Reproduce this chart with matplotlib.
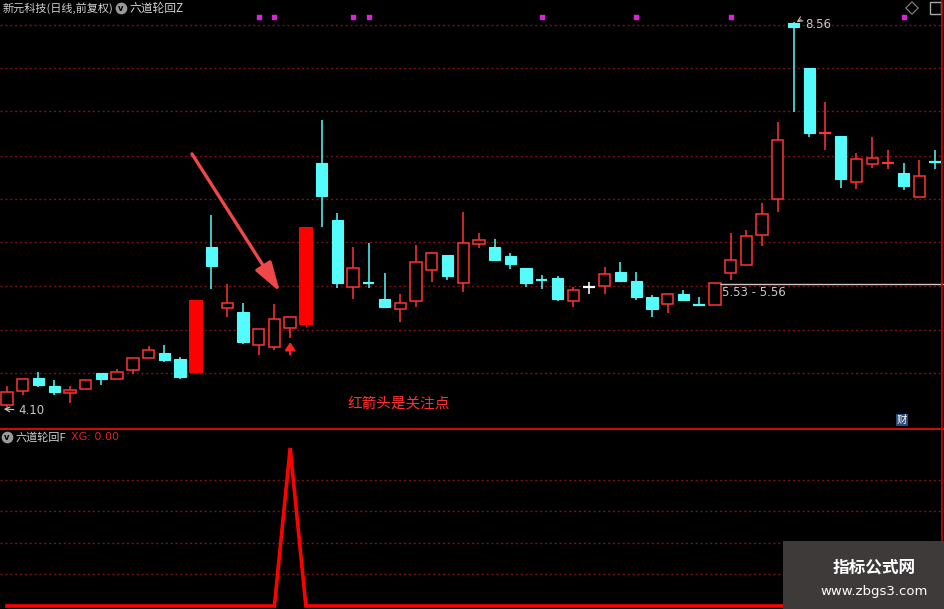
import matplotlib.pyplot as plt
from matplotlib.patches import Rectangle
import matplotlib.transforms as mtransforms
import numpy as np

plt.rcParams['font.family'] = ['Noto Sans CJK SC', 'DejaVu Sans']

# daily OHLC
opens = [4.15, 4.31, 4.46, 4.37, 4.28, 4.33, 4.51, 4.45, 4.55, 4.69,
         4.75, 4.68, 4.51, 5.97, 5.26, 5.22, 4.84, 4.81, 5.03, 5.07,
         6.94, 6.28, 5.51, 5.56, 5.37, 5.25, 5.35, 5.70, 5.88, 5.55,
         6.00, 5.97, 5.86, 5.72, 5.59, 5.61, 5.35, 5.51, 5.52, 5.68,
         5.58, 5.39, 5.31, 5.43, 5.30, 5.30, 5.67, 5.76, 6.11, 6.52,
         8.55, 8.03, 7.27, 7.25, 6.72, 6.92, 6.93, 6.82, 6.54, 6.95]
highs = [4.37, 4.45, 4.53, 4.43, 4.37, 4.43, 4.51, 4.56, 4.69, 4.83,
         4.84, 4.70, 4.51, 6.34, 5.54, 5.32, 5.02, 5.31, 5.16, 6.20,
         7.43, 6.36, 5.97, 6.01, 5.67, 5.43, 5.99, 5.91, 5.88, 6.37,
         6.13, 6.06, 5.90, 5.72, 5.64, 5.63, 5.51, 5.56, 5.74, 5.79,
         5.68, 5.41, 5.43, 5.47, 5.39, 5.55, 6.13, 6.16, 6.47, 7.41,
         8.56, 8.03, 7.64, 7.25, 7.05, 7.24, 7.09, 6.94, 6.97, 7.09]
lows = [4.10, 4.26, 4.35, 4.26, 4.17, 4.33, 4.38, 4.45, 4.50, 4.69,
        4.64, 4.45, 4.51, 5.48, 5.16, 4.85, 4.72, 4.78, 4.92, 5.05,
        6.20, 5.49, 5.37, 5.49, 5.26, 5.10, 5.28, 5.56, 5.59, 5.45,
        5.96, 5.82, 5.71, 5.51, 5.48, 5.35, 5.28, 5.43, 5.43, 5.58,
        5.36, 5.16, 5.21, 5.36, 5.29, 5.30, 5.59, 5.76, 5.98, 6.37,
        7.52, 7.24, 7.09, 6.65, 6.64, 6.88, 6.87, 6.62, 6.54, 6.87]
closes = [4.30, 4.45, 4.38, 4.30, 4.32, 4.43, 4.45, 4.53, 4.69, 4.78,
          4.66, 4.47, 5.36, 5.75, 5.32, 4.87, 5.02, 5.14, 5.16, 6.20,
          6.55, 5.55, 5.72, 5.54, 5.28, 5.32, 5.79, 5.90, 5.63, 6.01,
          6.05, 5.82, 5.77, 5.55, 5.58, 5.37, 5.47, 5.51, 5.66, 5.58,
          5.39, 5.25, 5.43, 5.36, 5.29, 5.55, 5.82, 6.09, 6.35, 7.20,
          8.50, 7.28, 7.29, 6.75, 6.98, 6.99, 6.94, 6.67, 6.79, 6.94]

big_bars = [12, 19]                          # filled red bars from the indicator
signal_dots = [16, 17, 22, 23, 34, 40, 46, 57]
xg = np.zeros(len(closes))
xg[18] = 1.0
grid_prices = [4.51, 5.01, 5.52, 6.02, 6.52, 7.02, 7.53, 8.03, 8.53]
box_low, box_high, box_start = 5.53, 5.56, 45

RED = '#ff3434'
CYAN = '#54fcfc'
GRID = '#7c1212'
BG = 'black'

fig = plt.figure(figsize=(9.45, 6.09), dpi=100, facecolor=BG)
ax = fig.add_axes([0, 181 / 609, 1, 428 / 609], facecolor=BG)
ax2 = fig.add_axes([0, 0, 1, 181 / 609], facecolor=BG)

n = len(closes)
x = np.arange(n)
ax.set_xlim(-0.445, 59.63)
ax.set_ylim(3.881, 8.814)
ax2.set_xlim(-0.445, 59.63)
ax2.set_ylim(-0.019, 1.1266)

for a in (ax, ax2):
    a.set_xticks([])
    a.set_yticks([])
    for s in a.spines.values():
        s.set_visible(False)

for g in grid_prices:
    ax.axhline(g, color=GRID, lw=1, ls=(0, (1.5, 2)), zorder=0)
for g in [0.2, 0.4, 0.6, 0.8]:
    ax2.axhline(g, color=GRID, lw=1, ls=(0, (1.5, 2)), zorder=0)

bw = 0.72
for i in range(n):
    o, h, l, c = opens[i], highs[i], lows[i], closes[i]
    if i in big_bars:
        ax.add_patch(Rectangle((i - 0.44, o), 0.88, c - o, facecolor='#ff0000',
                               edgecolor='#ff0000', lw=0, zorder=3))
        ax.vlines(i, l, h, color='#ff0000', lw=1, zorder=2)
        continue
    if c > o:
        col = RED
    elif c < o:
        col = CYAN
    else:
        col = 'white'
    ax.vlines(i, l, h, color=col, lw=1.1, zorder=1)
    lo, hi = min(o, c), max(o, c)
    if hi - lo < 0.03:
        ax.hlines((o + c) / 2, i - bw / 2, i + bw / 2, color=col, lw=1.6, zorder=2)
    elif col == RED:
        ax.add_patch(Rectangle((i - bw / 2, lo), bw, hi - lo, facecolor=BG,
                               edgecolor=col, lw=1.1, zorder=2))
    else:
        ax.add_patch(Rectangle((i - bw / 2, lo), bw, hi - lo, facecolor=col,
                               edgecolor=col, lw=0.8, zorder=2))

# signal dots on top row
trans = mtransforms.blended_transform_factory(ax.transData, ax.transAxes)
ax.scatter(signal_dots, [1 - 17 / 428] * len(signal_dots), s=7, color='#e020e0',
           marker='s', transform=trans, zorder=4)

# price range line
ax.hlines((box_low + box_high) / 2, box_start + 0.35, 59.63, color='#c8c8c8', lw=1, zorder=3)
ax.text(box_start + 0.45, 5.44, f'{box_low:.2f} - {box_high:.2f}', color='#c8c8c8',
        fontsize=8.5, va='center', ha='left', family='DejaVu Sans')

# high / low labels
hi_i = int(np.argmax(highs))
lo_i = int(np.argmin(lows))
ax.annotate(f'{highs[hi_i]:.2f}', xy=(hi_i + 0.2, highs[hi_i]), xytext=(hi_i + 0.75, highs[hi_i] - 0.03),
            color='#c8c8c8', fontsize=8.5, va='center', family='DejaVu Sans',
            arrowprops=dict(arrowstyle='->', color='#c8c8c8', lw=0.8,
                            connectionstyle='arc3,rad=0.4', shrinkA=1, shrinkB=0))
ax.annotate(f'{lows[lo_i]:.2f}', xy=(lo_i - 0.2, lows[lo_i]), xytext=(lo_i + 0.7, lows[lo_i] - 0.02),
            color='#c8c8c8', fontsize=8.5, va='center', family='DejaVu Sans',
            arrowprops=dict(arrowstyle='->', color='#c8c8c8', lw=0.8, shrinkA=1, shrinkB=0))

# signal arrow under the candle
sig = int(np.argmax(xg))
ax.annotate('', xy=(sig, lows[sig] - 0.05), xytext=(sig, lows[sig] - 0.19),
            arrowprops=dict(arrowstyle='-|>,head_length=0.45,head_width=0.3', color='#ff2020',
                            lw=1.6, mutation_scale=10, shrinkA=0, shrinkB=0), zorder=4)

# big annotation arrow
ax.annotate('', xy=(17.35, 5.45), xytext=(11.76, 7.04),
            arrowprops=dict(arrowstyle='-|>,head_length=0.9,head_width=0.28', color='#f04848',
                            lw=2.4, mutation_scale=20, shrinkA=0, shrinkB=0), zorder=5)
ax.text(24.9, 4.16, '红箭头是关注点', color='#ff3030', fontsize=10.5, ha='center', va='center')

# headers
ax.text(3 / 945, 1 - 8 / 428, '新元科技(日线,前复权)', transform=ax.transAxes, color='#d2d2d2',
        fontsize=8, va='center', ha='left')
ax.scatter([121 / 945], [1 - 8 / 428], s=55, color='#9a9a9a', transform=ax.transAxes, zorder=6)
ax.text(121 / 945, 1 - 8.5 / 428, 'v', transform=ax.transAxes, color='black', fontsize=6,
        fontweight='bold', ha='center', va='center', family='DejaVu Sans', zorder=7)
ax.text(130 / 945, 1 - 8 / 428, '六道轮回Z', transform=ax.transAxes, color='#d2d2d2',
        fontsize=8.5, va='center', ha='left')
ax.scatter([912 / 945], [1 - 8 / 428], s=40, marker='D', facecolor='none', edgecolor='#8a8a8a',
           lw=0.8, transform=ax.transAxes, zorder=6)
ax.add_patch(Rectangle((930 / 945, 1 - 14 / 428), 11 / 945, 12 / 428, transform=ax.transAxes,
                       facecolor='none', edgecolor='#aaaaaa', lw=1, zorder=6))
ax.text(902 / 945, 1 - 420 / 428, '财', transform=ax.transAxes, color='white', fontsize=7.5,
        ha='center', va='center',
        bbox=dict(boxstyle='square,pad=0.1', facecolor='#2a4a78', edgecolor='none'))

ax2.scatter([7 / 945], [1 - 9 / 181], s=55, color='#9a9a9a', transform=ax2.transAxes, zorder=6)
ax2.text(7 / 945, 1 - 9.5 / 181, 'v', transform=ax2.transAxes, color='black', fontsize=6,
         fontweight='bold', ha='center', va='center', family='DejaVu Sans', zorder=7)
ax2.text(16 / 945, 1 - 9 / 181, '六道轮回F', transform=ax2.transAxes, color='#d2d2d2',
         fontsize=8, va='center', ha='left')
ax2.text(71 / 945, 1 - 9 / 181, f'XG: {xg[-1]:.2f}', transform=ax2.transAxes, color='#e02020',
         fontsize=8, va='center', ha='left', family='DejaVu Sans')

# XG line
ax2.plot(x, xg, color='#ff0000', lw=2.6, solid_joinstyle='miter', zorder=3)

# panel borders
ax2.axhline(1.1266 - 0.007, color='#c01010', lw=1.5, zorder=4)
fig.add_artist(plt.Line2D([942 / 945, 942 / 945], [0, 1], color='#b01010', lw=1.2))

# watermark
fig.add_artist(Rectangle((783 / 945, 0), 162 / 945, 68 / 609, transform=fig.transFigure,
                         facecolor='#3e3a3a', edgecolor='none', zorder=10))
fig.text(874 / 945, 1 - 567 / 609, '指标公式网', color='white', fontsize=12, fontweight='bold',
         ha='center', va='center', zorder=11)
fig.text(874 / 945, 1 - 591 / 609, 'www.zbgs3.com', color='white', fontsize=9.5,
         ha='center', va='center', zorder=11, family='DejaVu Sans')

plt.savefig('out.png', dpi=100, facecolor=BG)
